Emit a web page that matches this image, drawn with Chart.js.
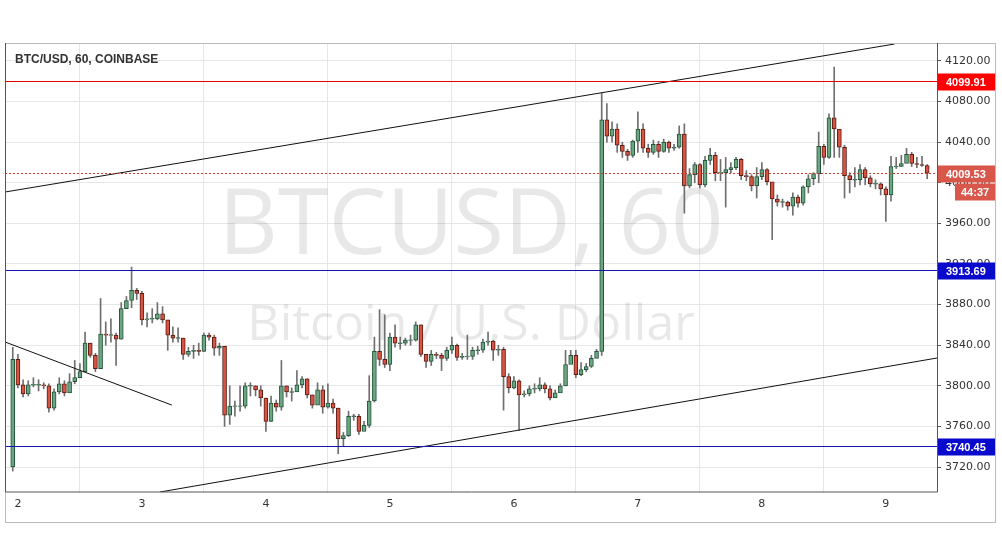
<!DOCTYPE html>
<html><head><meta charset="utf-8">
<script src="https://cdn.jsdelivr.net/npm/chart.js@4/dist/chart.umd.min.js"></script>
<style>html,body{margin:0;padding:0;background:#fff}#wrap{width:1002px;height:557px}</style>
</head><body><div id="wrap"><canvas id="c" width="1002" height="557"></canvas></div>
<script>
const firstOpen = 3720;
const closes = [3826,3801,3792,3801,3801,3801,3800,3778,3794,3802,3793,3804,3808,3814,3842,3830,3817,3851,3850,3850,
3846,3876,3884,3894,3891,3865,3866,3866,3871,3865,3850,3847,3847,3831,3834,3835,3834,3850,3848,3837,
3839,3771,3780,3780,3780,3800,3800,3796,3788,3765,3783,3779,3800,3794,3794,3801,3807,3791,3781,3796,
3779,3783,3778,3748,3751,3770,3770,3755,3761,3785,3834,3826,3821,3848,3842,3842,3845,3845,3860,3831,
3824,3831,3830,3827,3835,3840,3828,3829,3829,3835,3835,3843,3844,3835,3836,3809,3798,3805,3791,3792,
3797,3797,3801,3797,3788,3793,3800,3821,3830,3811,3816,3819,3827,3834,4062,4046,4053,4037,4031,4027,
4041,4053,4034,4030,4038,4031,4040,4034,4035,4048,3997,4008,4018,3998,4022,4027,4010,4010,4013,4015,
4023,4007,4006,3997,4006,4013,4001,3984,3981,3981,3977,3986,3980,3996,4004,4009,4036,4025,4064,4053,
4035,4007,4003,4003,4013,4005,3999,3999,3994,3988,4016,4016,4019,4028,4019,4018,4017,4009.5];
const highs = [3838,3831,3806,3805,3808,3806,3803,3802,3797,3808,3805,3812,3825,3822,3853,3842,3832,3886,3863,3866,
3852,3882,3888,3917,3896,3893,3872,3876,3882,3878,3857,3858,3857,3847,3838,3840,3842,3852,3852,3850,
3842,3839,3800,3785,3800,3803,3803,3800,3800,3788,3790,3786,3825,3800,3798,3815,3809,3807,3791,3803,
3800,3802,3787,3778,3754,3775,3772,3772,3765,3810,3848,3875,3870,3852,3860,3848,3847,3850,3863,3860,
3830,3835,3833,3832,3838,3848,3841,3832,3850,3838,3839,3846,3853,3845,3840,3838,3812,3809,3806,3795,
3800,3802,3808,3803,3800,3796,3802,3835,3835,3835,3823,3822,3830,3836,4088,4078,4060,4058,4040,4033,
4042,4070,4058,4038,4042,4041,4043,4041,4038,4056,4058,4014,4020,4019,4026,4034,4030,4023,4025,4020,
4025,4024,4012,4008,4015,4020,4014,4000,3988,3984,3982,3990,3988,3997,4008,4010,4050,4038,4068,4114,
4042,4037,4010,4015,4018,4015,4007,4003,4000,3996,4026,4025,4027,4034,4030,4025,4026,4018];
const lows = [3716,3798,3789,3790,3799,3795,3797,3774,3776,3792,3790,3800,3802,3811,3820,3828,3814,3817,3840,3843,
3820,3846,3880,3877,3885,3860,3858,3862,3865,3862,3835,3843,3843,3826,3829,3827,3830,3834,3845,3830,
3830,3760,3762,3770,3775,3778,3790,3790,3780,3755,3765,3775,3776,3789,3785,3795,3798,3788,3778,3792,
3773,3778,3773,3733,3740,3750,3766,3752,3757,3759,3784,3820,3818,3815,3838,3836,3840,3840,3844,3829,
3818,3820,3827,3815,3825,3832,3825,3826,3826,3826,3831,3833,3840,3825,3830,3776,3793,3797,3756,3789,
3790,3793,3795,3793,3786,3789,3795,3800,3825,3808,3810,3814,3818,3828,3830,4040,4040,4030,4025,4022,
4025,4030,4030,4025,4028,4025,4030,4030,4032,4034,3970,3995,4000,3995,3996,4018,4002,4002,3976,4010,
4013,4003,4002,3992,3985,4003,3998,3944,3977,3976,3973,3968,3976,3978,3990,3998,4000,4018,4024,4025,
4025,3985,3990,3996,3998,3998,3996,3994,3988,3962,3982,4014,4016,4022,4016,4015,4016,4004];
const dayLabels = ['2','3','4','5','6','7','8','9'];
const yTicks = [3720,3760,3800,3840,3880,3920,3960,4000,4040,4080,4120];
const levelRed = 4099.91, levelBlue1 = 3913.69, levelBlue2 = 3740.45, lastPrice = 4009.53;
const upperChannel = [{x:-2.5,y:3990.9},{x:169.7,y:4136.7}];
const lowerChannel = [{x:27.5,y:3695.4},{x:177.9,y:3827.4}];
const smallTrend = [{x:-2.5,y:3843.2},{x:29.8,y:3781}];

const opens = closes.map((c,i)=> i===0 ? firstOpen : closes[i-1]);
const xs = closes.map((c,i)=> i-1);
const bodies = closes.map((c,i)=>{const o=opens[i];let lo=Math.min(o,c),hi=Math.max(o,c);if(hi-lo<0.8){lo=(o+c)/2-0.4;hi=(o+c)/2+0.4;}return {x:xs[i],y:[lo,hi]};});
const wicks = closes.map((c,i)=>({x:xs[i],y:[lows[i],highs[i]]}));
const up = closes.map((c,i)=> c>=opens[i]);

const overlay = {
  id:'overlay',
  beforeDatasetsDraw(chart){
    const {ctx,chartArea:a}=chart;
    ctx.save();
    ctx.fillStyle='rgba(0,0,0,0.09)';
    ctx.textAlign='center';ctx.textBaseline='middle';
    ctx.font='92px "Open Sans", sans-serif';
    ctx.fillText('BTCUSD, 60',(a.left+a.right)/2,228);
    ctx.font='50px "Open Sans", sans-serif';
    ctx.fillText('Bitcoin / U.S. Dollar',(a.left+a.right)/2,326);
    ctx.restore();
  },
  afterDraw(chart){
    const {ctx,chartArea:a,scales:{y}}=chart;
    ctx.save();
    const hline=(v,col,dash)=>{const py=Math.round(y.getPixelForValue(v))+0.5;ctx.strokeStyle=col;ctx.lineWidth=1.2;ctx.setLineDash(dash||[]);ctx.beginPath();ctx.moveTo(a.left,py);ctx.lineTo(a.right,py);ctx.stroke();ctx.setLineDash([]);return py;};
    const box=(py,txt,col)=>{ctx.fillStyle=col;ctx.fillRect(a.right+1,py-8,57,17);ctx.fillStyle='#fff';ctx.font='bold 11px "Liberation Sans", Arial, sans-serif';ctx.textAlign='left';ctx.textBaseline='middle';ctx.fillText(txt,a.right+9,py+1);};
    let p;
    p=hline(levelRed,'rgb(230,0,0)'); box(p,'4099.91','#ff0000');
    p=hline(levelBlue1,'rgb(20,20,180)'); box(p,'3913.69','#0a0acc');
    p=hline(levelBlue2,'rgb(20,20,180)'); box(p,'3740.45','#0a0acc');
    const pl=hline(lastPrice,'rgb(210,60,45)',[2,2]);
    box(pl,'4009.53','#d9574a');
    ctx.fillStyle='#d9574a';ctx.fillRect(a.right+18,pl+10,40,17);
    ctx.fillStyle='#fff';ctx.font='bold 11px "Liberation Sans", Arial, sans-serif';ctx.fillText('44:37',a.right+24,pl+19);
    ctx.fillStyle='#333';ctx.font='bold 12px "Liberation Sans", Arial, sans-serif';ctx.textAlign='left';ctx.textBaseline='middle';
    ctx.fillText('BTC/USD, 60, COINBASE',a.left+10,60);
    ctx.strokeStyle='#bbb';ctx.lineWidth=1;
    ctx.strokeRect(a.left+0.5,a.top+0.5,995-a.left,522-a.top);
    ctx.strokeStyle='#555';
    ctx.beginPath();ctx.moveTo(a.left+0.5,a.top);ctx.lineTo(a.left+0.5,a.bottom);ctx.lineTo(a.right+0.5,a.bottom);ctx.moveTo(a.right+0.5,a.top);ctx.lineTo(a.right+0.5,a.bottom);ctx.stroke();
    ctx.restore();
  }
};

new Chart(document.getElementById('c'),{
  type:'bar',
  data:{datasets:[
    {type:'line',data:upperChannel,borderColor:'#111',borderWidth:1,pointRadius:0,order:0},
    {type:'line',data:lowerChannel,borderColor:'#111',borderWidth:1,pointRadius:0,order:0},
    {type:'line',data:smallTrend,borderColor:'#111',borderWidth:1,pointRadius:0,order:0},
    {data:bodies,grouped:false,barThickness:4,borderWidth:1,borderSkipped:false,
      backgroundColor:up.map(u=>u?'#6ba583':'#d75442'),borderColor:up.map(u=>u?'#225437':'#5b1a13'),order:1},
    {data:wicks,grouped:false,barThickness:1,backgroundColor:'#6f6f6f',borderWidth:0,order:2}
  ]},
  options:{
    responsive:false,animation:false,
    layout:{padding:{top:43,left:5,right:7,bottom:43}},
    plugins:{legend:{display:false},tooltip:{enabled:false}},
    scales:{
      x:{type:'linear',min:-2.5,max:177.9,offset:false,
        grid:{color:'#e6e6e6',drawTicks:false},border:{display:false},
        afterBuildTicks(s){s.ticks=dayLabels.map((d,i)=>({value:i*24}));},
        afterFit(s){s.height=22;},
        ticks:{color:'#333',font:{size:11,family:'"DejaVu Sans"'},padding:6,autoSkip:false,maxRotation:0,
          callback:(v)=>dayLabels[Math.round(v/24)]}},
      y:{position:'right',min:3695.4,max:4137.7,
        grid:{color:'#e6e6e6',drawTicks:true,tickLength:4,tickColor:'#555'},border:{display:false},
        afterBuildTicks(s){s.ticks=yTicks.map(v=>({value:v}));},
        afterFit(s){s.width=58;},
        ticks:{color:'#333',font:{size:11,family:'"DejaVu Sans"'},padding:4,callback:(v)=>v.toFixed(2)}}
    }
  },
  plugins:[overlay]
});
</script></body></html>
